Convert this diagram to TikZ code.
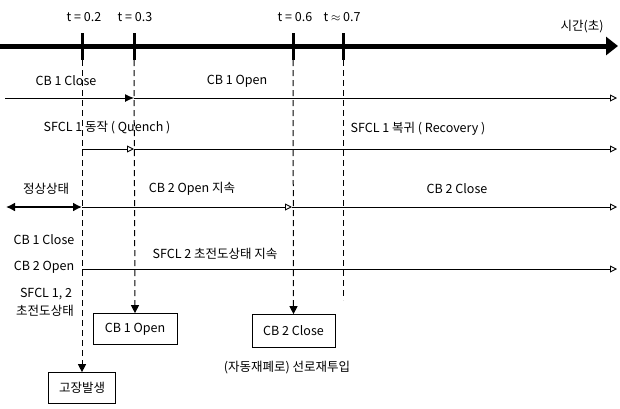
\documentclass[tikz,border=0pt]{standalone}
\usepackage{fontspec}
\setmainfont{Noto Sans CJK KR}
\usetikzlibrary{arrows.meta}
\begin{document}
\begin{tikzpicture}[x=1pt,y=-1pt,
  lbl/.style={inner sep=0pt,font=\fontsize{12.5}{14}\selectfont},
  axisline/.style={line width=5pt,-{Triangle[length=12pt,width=18pt]}},
  tickmark/.style={line width=3pt},
  dashline/.style={line width=1pt,dash pattern=on 6pt off 4pt},
  rowline/.style={line width=0.9pt},
  openhead/.style={-{Triangle[open,length=7pt,width=7pt]}},
  fillhead/.style={-{Latex[length=9pt,width=8pt]}},
  downhead/.style={-{Triangle[length=8pt,width=8pt]}},
  evbox/.style={draw,line width=0.7pt,inner sep=0pt,font=\fontsize{12.5}{14}\selectfont}
]
\useasboundingbox (0,0) rectangle (620,408);
% time axis
\coordinate (ax0) at (0,46);
\coordinate (ax1) at (618,46);
\draw[axisline] (ax0) -- (ax1);
\node[lbl] (tlab) at (582,27) {시간(초)};
% ticks
\foreach \n/\x in {a/82,b/134,c/293,d/343}{
  \coordinate (\n-top) at (\x,33);
  \coordinate (\n-bot) at (\x,60);
  \draw[tickmark] (\n-top) -- (\n-bot);
}
\node[lbl] (ta) at (84,17) {t = 0.2};
\node[lbl] (tb) at (135,17) {t = 0.3};
\node[lbl] (tc) at (295,17) {t = 0.6};
\node[lbl] (td) at (342,17) {t $\approx$ 0.7};
% event boxes
\node[evbox,minimum width=84pt,minimum height=31pt] (cb1open) at (135,329) {CB 1 Open};
\node[evbox,minimum width=83pt,minimum height=33pt] (cb2close) at (293.5,331) {CB 2 Close};
\node[evbox,minimum width=67pt,minimum height=31pt] (fault) at (82,388) {고장발생};
\node[lbl] (reclose) at (287,368) {(자동재폐로) 선로재투입};
% dashed lines
\draw[dashline,downhead] (a-bot) -- (fault.north);
\draw[dashline,downhead] (b-bot) -- (cb1open.north);
\draw[dashline,downhead] (c-bot) -- (cb2close.north);
\coordinate (d-end) at (343,300);
\draw[dashline] (d-bot) -- (d-end);
% row 1
\coordinate (r1s) at (5,98);
\coordinate (r1m) at (134,98);
\coordinate (r1e) at (617,98);
\draw[rowline,fillhead] (r1s) -- (r1m);
\draw[rowline,openhead] (r1m) -- (r1e);
\node[lbl] (cb1close) at (66,81) {CB 1 Close};
\node[lbl] (cb1opentxt) at (237,81) {CB 1 Open};
% row 2
\coordinate (r2s) at (82,149);
\coordinate (r2m) at (134,149);
\coordinate (r2e) at (617,149);
\draw[rowline,openhead] (r2s) -- (r2m);
\draw[rowline,openhead] (r2m) -- (r2e);
\node[lbl] (quench) at (107,128) {SFCL 1 동작 ( Quench )};
\node[lbl] (recov) at (418,129) {SFCL 1 복귀 ( Recovery )};
% row 3
\coordinate (r3a) at (6,207);
\coordinate (r3s) at (82,207);
\coordinate (r3m) at (292,207);
\coordinate (r3e) at (617,207);
\draw[line width=1.6pt,{Latex[length=9pt,width=9pt]}-{Latex[length=9pt,width=9pt]}] (r3a) -- (r3s);
\draw[rowline,openhead] (r3s) -- (r3m);
\draw[rowline,openhead] (r3m) -- (r3e);
\node[lbl] (normal) at (46,189) {정상상태};
\node[lbl] (cb2open) at (192,189) {CB 2 Open 지속};
\node[lbl] (cb2closetxt) at (457,189) {CB 2 Close};
% row 4
\coordinate (r4s) at (82,269);
\coordinate (r4e) at (617,269);
\draw[rowline,openhead] (r4s) -- (r4e);
\node[lbl] (cb1c2) at (44,240) {CB 1 Close};
\node[lbl] (cb2o2) at (44,267) {CB 2 Open};
\node[lbl] (sfcl2) at (215,254) {SFCL 2 초전도상태 지속};
\node[lbl] (sfcl12) at (46,294) {SFCL 1, 2};
\node[lbl] (supc) at (45,311) {초전도상태};
\end{tikzpicture}
\end{document}
